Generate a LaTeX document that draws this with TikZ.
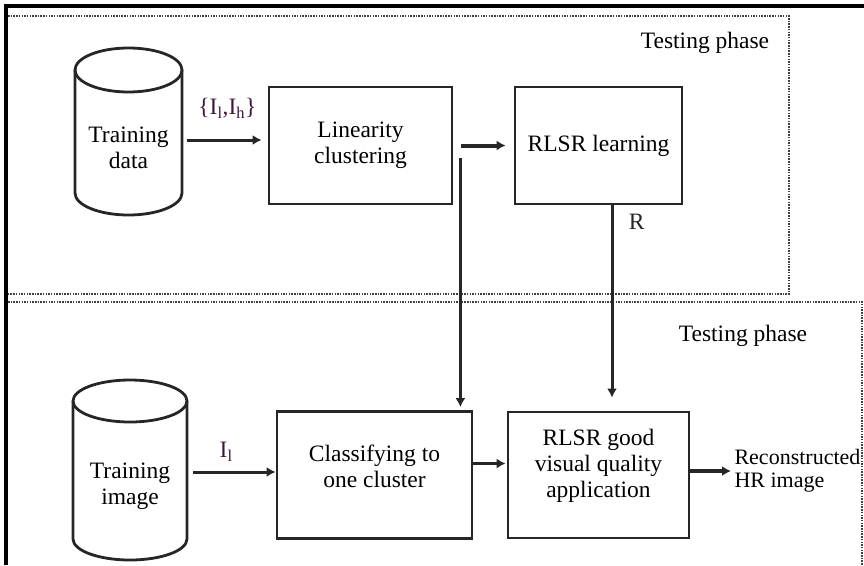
\documentclass[tikz,border=0pt]{standalone}
\usepackage{fontspec}
\setmainfont{Liberation Serif}
\usetikzlibrary{arrows.meta}
\begin{document}
\begin{tikzpicture}[x=1pt,y=-1pt,
  txt/.style={align=center,font=\fontsize{23.5}{26}\selectfont},
  blk/.style={txt,draw=black!85,line width=2.8pt},
  cyl/.style={draw=black!85,line width=2.8pt},
  arr/.style={-{Latex[length=9pt,width=10pt]},line width=3pt,black!85},
  dotbox/.style={gray!50!black,line width=2pt,dash pattern=on 1.5pt off 1.2pt}]
  \useasboundingbox (0,0) rectangle (864,565);
  \draw[dotbox] (8,16) -- (789,16) -- (789,294) -- (8,294);
  \draw[dotbox] (8,302) -- (862,302) -- (862,565);
  \draw[line width=3.5pt] (6,565) -- (6,6) -- (864,6);
  \draw[cyl] (128.5,70) ellipse [x radius=53.5pt,y radius=22pt];
  \draw[cyl] (75,70) -- (75,193) arc [start angle=180,end angle=360,x radius=53.5pt,y radius=22pt] -- (182,70);
  \draw[cyl] (130,401) ellipse [x radius=57pt,y radius=21pt];
  \draw[cyl] (73,401) -- (73,539) arc [start angle=180,end angle=360,x radius=57pt,y radius=21pt] -- (187,401);
  \node[txt,minimum width=107pt] (tdata) at (128.5,148) {Training\\data};
  \node[txt,minimum width=114pt] (timage) at (130,486) {Training\\image};
  \node[blk,minimum width=183pt,minimum height=117pt] (lincl) at (360.5,145.5) {Linearity\\clustering};
  \node[blk,minimum width=167pt,minimum height=117pt] (rlearn) at (598.5,145.5) {RLSR learning};
  \node[blk,minimum width=195pt,minimum height=127pt,label={[txt,yshift=9pt]center:Classifying to\\one cluster}] (classify) at (374.5,475) {};
  \node[blk,minimum width=181pt,minimum height=126pt,label={[txt,yshift=9pt]center:RLSR good\\visual quality\\application}] (rgood) at (598.5,475) {};
  \node[anchor=west,align=left,font=\fontsize{22}{23}\selectfont] (hrimg) at (731,471) {Reconstructed\\HR image};
  \node[txt] (ptrain) at (705,43) {Testing phase};
  \node[txt] (ptest) at (743,336) {Testing phase};
  \draw[arr,shorten >=6pt] ([xshift=5pt,yshift=8pt]tdata.east) -- ([yshift=8pt]tdata.east -| lincl.west)
    node[midway,above=17pt,txt,text={rgb,255:red,60;green,25;blue,60}] {\{I\textsubscript{l},I\textsubscript{h}\}};
  \draw[arr,line width=4pt,shorten <=8pt,shorten >=8pt] (lincl) -- (rlearn);
  \draw[arr,shorten >=3pt] ([xshift=7pt,yshift=-12.5pt]lincl.east) -- ([xshift=7pt]lincl.east |- classify.north);
  \draw[arr,shorten >=13pt] ([xshift=13.5pt]rlearn.south) -- ([xshift=13.5pt]rlearn.south |- rgood.north)
    node[pos=0.08,right=12pt,txt] {R};
  \draw[arr] ([xshift=6pt,yshift=14pt]timage.east) -- ([yshift=14pt]timage.east -| classify.west)
    node[pos=0.4,above=6pt,txt,text={rgb,255:red,60;green,25;blue,60}] {I\textsubscript{l}};
  \draw[arr,shorten >=1pt] ([yshift=11.5pt]classify.east) -- ([yshift=11.5pt]classify.east -| rgood.west);
  \draw[arr,line width=3.5pt] (rgood.east |- hrimg.west) -- (hrimg.west);
\end{tikzpicture}
\end{document}
